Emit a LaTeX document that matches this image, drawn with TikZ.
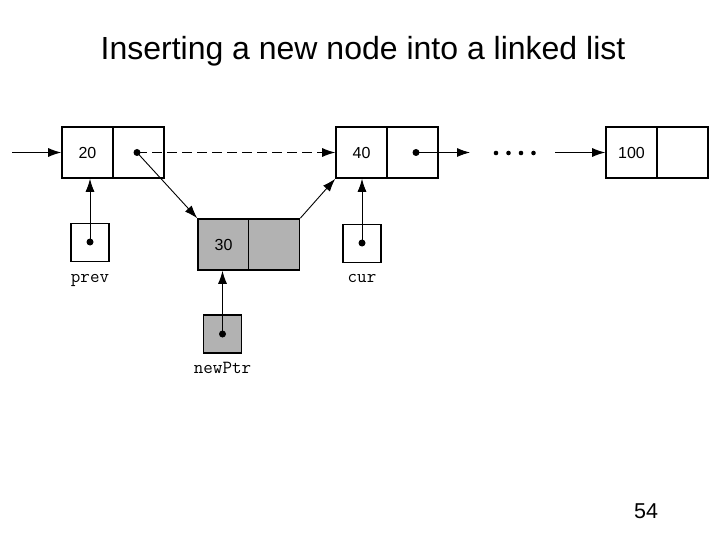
\documentclass[tikz,border=0pt]{standalone}
\usepackage{fontspec}
\setmainfont{Liberation Sans}
\usetikzlibrary{arrows.meta}

\begin{document}
\begin{tikzpicture}[
                      x = 1pt,
                      y = -1pt,
        cell/.style = {draw, line width=1.6pt, minimum width=51pt,
                       minimum height=51pt, inner sep=0pt,
                       font=\fontsize{16}{16}\selectfont},
     newcell/.style = {cell, fill=black!30},
         ptr/.style = {draw, line width=1.6pt, minimum size=38pt, inner sep=0pt},
      newptr/.style = {ptr, fill=black!30},
       label/.style = {anchor=base, font=\ttfamily\fontsize{18.5}{18.5}\selectfont},
        link/.style = {-{Latex[length=13pt,width=9pt]}, line width=0.9pt},
         dot/.style = {circle, fill, inner sep=0pt, minimum size=7pt},
                     ]
\useasboundingbox (0,0) rectangle (720,540);

\node[anchor=base, font=\fontsize{32}{32}\selectfont] (title) at (363,60) {Inserting a new node into a linked list};

% the list
\node[cell] (v20) at (87.5,152.5) {20};
\node[cell] (p20) at (138.5,152.5) {};
\node[cell] (v40) at (361.5,152.5) {40};
\node[cell] (p40) at (412.5,152.5) {};
\node[cell] (v100) at (631.5,152.5) {100};
\node[cell] (p100) at (682.5,152.5) {};

% the new node
\node[newcell] (v30) at (223.5,244.5) {30};
\node[newcell] (p30) at (274,244.5) {};

% pointers
\node[ptr] (prev) at (90,242.5) {};
\node[label] at (90,282) {prev};
\node[ptr] (cur) at (362,243.5) {};
\node[label] at (362,282) {cur};
\node[newptr] (newPtr) at (222.5,334) {};
\node[label] at (222.5,373) {newPtr};

\node[dot] (d20) at (137,152.5) {};
\node[dot] (d40) at (416,152.5) {};
\node[dot] (dprev) at (90,242) {};
\node[dot] (dcur) at (362,243) {};
\node[dot] (dnew) at (222.5,334) {};

% the rest of the list
\foreach \x in {496,508.5,521,533.5}
    \fill (\x,153) circle (2.3pt);

\coordinate (head) at (12,152.5);
\coordinate (next40) at (470,152.5);
\coordinate (tail) at (555,152.5);

\draw[link] (head) -- (v20.west);
\draw[link, dash pattern=on 10pt off 5pt] (d20.center) -- (v40.west);
\draw[link] (d20.center) -- (v30.north west);
\draw[link] (p30.north east) -- (v40.south west);
\draw[link] (d40.center) -- (next40);
\draw[link] (tail) -- (v100.west);

\draw[link] (dprev.center) -- (prev.center |- v20.south);
\draw[link] (dcur.center) -- (cur.center |- v40.south);
\draw[link] (dnew.center) -- (newPtr.center |- v30.south);

\node[anchor=base, font=\fontsize{21.5}{21.5}\selectfont] (page) at (646,518) {54};
\end{tikzpicture}
\end{document}
